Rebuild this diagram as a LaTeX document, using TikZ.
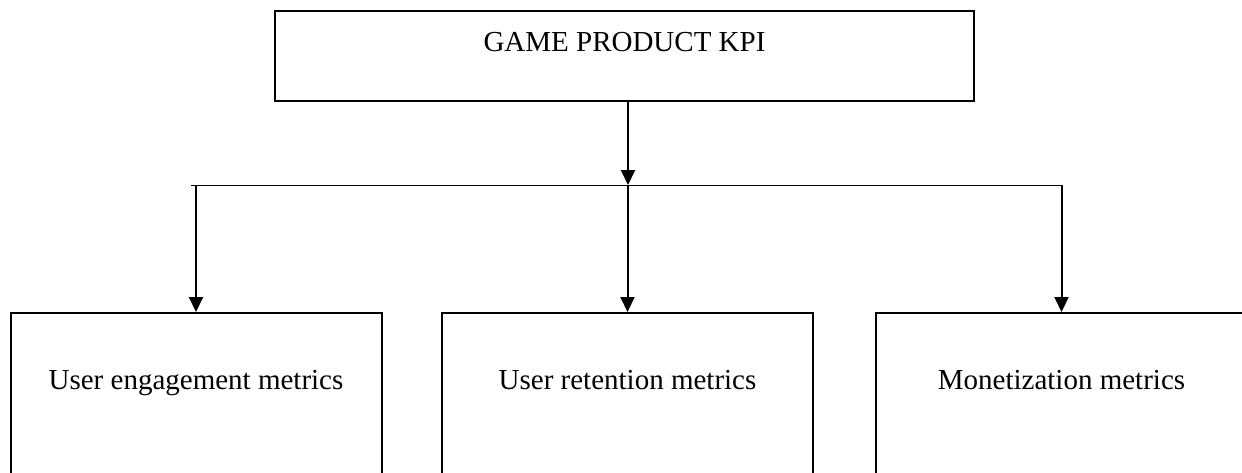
\documentclass[tikz,border=0pt]{standalone}
\usepackage{fontspec}
\setmainfont{Liberation Serif}
\usetikzlibrary{positioning,arrows.meta}

\tikzset{
  box/.style={draw,line width=2pt,inner sep=0pt,align=center,
    font=\fontsize{29}{34}\selectfont},
  topbox/.style={box,minimum width=699pt,text height=40pt,text depth=50pt},
  kpibox/.style={box,minimum width=371pt,text height=76pt,text depth=100pt},
  arr/.style={line width=2pt,-{Triangle[length=15pt,width=14pt]}}
}

\begin{document}
\begin{tikzpicture}[x=1pt,y=-1pt]
\useasboundingbox (0,0) rectangle (1242,472);
\node[topbox,anchor=north] (kpi) at (624.5,10) {GAME PRODUCT KPI};
\node[kpibox,anchor=north] (engage) at (196,312) {User engagement metrics};
\node[kpibox,anchor=north] (retain) at (627.5,312) {User retention metrics};
\node[kpibox,anchor=north] (money) at (1061.5,312) {Monetization metrics};
\coordinate (barL) at (191,185);
\coordinate (barR) at (1063,185);
\draw[line width=1pt] (barL) -- (barR);
\draw[arr] ([xshift=3.5pt]kpi.south) -- ([xshift=3.5pt]kpi.south |- barL);
\draw[arr] (engage.north |- barL) -- (engage.north);
\draw[arr] (retain.north |- barL) -- (retain.north);
\draw[arr] (money.north |- barL) -- (money.north);
\end{tikzpicture}
\end{document}
